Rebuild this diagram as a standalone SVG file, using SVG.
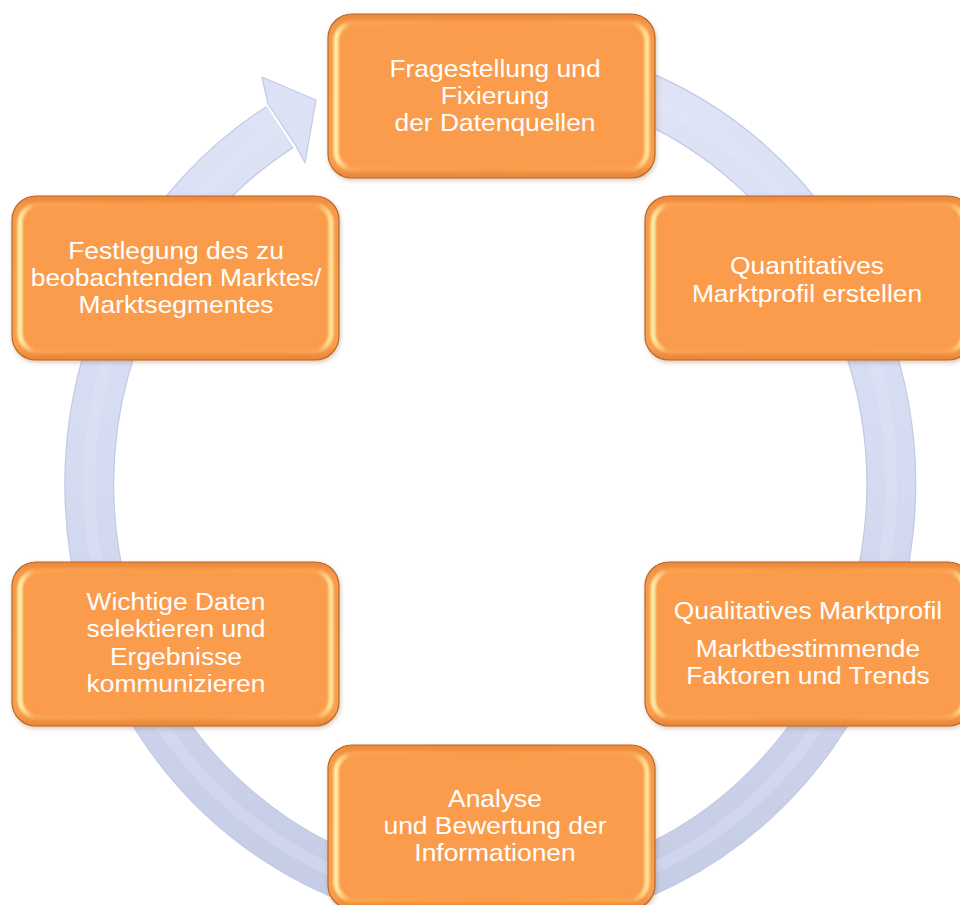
<svg xmlns="http://www.w3.org/2000/svg" xmlns:xlink="http://www.w3.org/1999/xlink" width="960" height="905" viewBox="0 0 960 905">
<style>
.lbl{font-family:"Liberation Sans",Arial,sans-serif;font-size:24px;fill:#FFFFFF;text-anchor:middle}
.ringEdge{fill:none;stroke:#C3CAE4;stroke-width:50}
.ringBody{fill:none;stroke:url(#ringGrad);stroke-width:47.5}
.ringStripe{fill:none;stroke:#E4E8F7;stroke-width:12;opacity:0.3}
</style>
<defs>
<linearGradient id="ringGrad" gradientUnits="userSpaceOnUse" x1="0" y1="40" x2="0" y2="900">
<stop offset="0" stop-color="#DFE4F6"/>
<stop offset="0.5" stop-color="#D5DBF1"/>
<stop offset="1" stop-color="#C5CCE5"/>
</linearGradient>
<linearGradient id="outerGrad" x1="0" y1="0" x2="0" y2="1">
<stop offset="0" stop-color="#EC8838"/>
<stop offset="0.07" stop-color="#F7984A"/>
<stop offset="0.92" stop-color="#F99D4C"/>
<stop offset="1" stop-color="#E88536"/>
</linearGradient>
<linearGradient id="bevelGrad" x1="0" y1="0" x2="1" y2="0">
<stop offset="0" stop-color="#FFF0A8"/>
<stop offset="0.045" stop-color="#FBA352"/>
<stop offset="0.5" stop-color="#FA9C4B"/>
<stop offset="0.955" stop-color="#FBA352"/>
<stop offset="1" stop-color="#FFE597"/>
</linearGradient>
<filter id="shadow" x="-10%" y="-10%" width="120%" height="130%">
<feDropShadow dx="1" dy="2" stdDeviation="2" flood-color="#7A4A20" flood-opacity="0.3"/>
</filter>
<filter id="soft" x="-5%" y="-5%" width="110%" height="110%">
<feGaussianBlur stdDeviation="1.3"/>
</filter>
<g id="box">
<rect x="0" y="0" width="327" height="164" rx="24" ry="24" fill="url(#outerGrad)" stroke="#B8692B" stroke-width="1.2" filter="url(#shadow)"/>
<rect x="8" y="9" width="311" height="146" rx="18" ry="18" fill="#FA9C4B" stroke="url(#bevelGrad)" stroke-width="5" filter="url(#soft)"/>
<rect x="13" y="14" width="301" height="136" rx="14" ry="14" fill="#FA9C4B"/>
</g>
</defs>
<rect width="960" height="905" fill="#FFFFFF"/>
<g id="connectors">
<path class="ringEdge" d="M 354.35 89.33 A 401 420 0 1 1 279.9 126.9"/>
<path class="ringBody" d="M 354.35 89.33 A 401 420 0 1 1 279.9 126.9"/>
<path class="ringStripe" d="M 354.35 89.33 A 401 420 0 1 1 279.9 126.9"/>
<polygon points="268,104 262,77 316,100 305,163 296,146" fill="#DCE1F5" stroke="#C3CAE4" stroke-width="1.2" stroke-linejoin="round"/>
</g>
<g id="node-fragestellung">
<use xlink:href="#box" href="#box" x="328" y="14"/>
<g transform="translate(495,0) scale(1.1,1)">
<text class="lbl" x="0" y="77">Fragestellung und</text>
<text class="lbl" x="0" y="104">Fixierung</text>
<text class="lbl" x="0" y="131">der Datenquellen</text>
</g>
</g>
<g id="node-quantitativ">
<use xlink:href="#box" href="#box" x="645" y="196"/>
<g transform="translate(807,0) scale(1.1,1)">
<text class="lbl" x="0" y="274">Quantitatives</text>
<text class="lbl" x="0" y="302">Marktprofil erstellen</text>
</g>
</g>
<g id="node-qualitativ">
<use xlink:href="#box" href="#box" x="645" y="562"/>
<g transform="translate(808,0) scale(1.1,1)">
<text class="lbl" x="0" y="619">Qualitatives Marktprofil</text>
<text class="lbl" x="0" y="657">Marktbestimmende</text>
<text class="lbl" x="0" y="684">Faktoren und Trends</text>
</g>
</g>
<g id="node-analyse">
<use xlink:href="#box" href="#box" x="328" y="745"/>
<g transform="translate(495,0) scale(1.1,1)">
<text class="lbl" x="0" y="807">Analyse</text>
<text class="lbl" x="0" y="834">und Bewertung der</text>
<text class="lbl" x="0" y="861">Informationen</text>
</g>
</g>
<g id="node-wichtige-daten">
<use xlink:href="#box" href="#box" x="12" y="562"/>
<g transform="translate(176,0) scale(1.1,1)">
<text class="lbl" x="0" y="610">Wichtige Daten</text>
<text class="lbl" x="0" y="637">selektieren und</text>
<text class="lbl" x="0" y="665">Ergebnisse</text>
<text class="lbl" x="0" y="692">kommunizieren</text>
</g>
</g>
<g id="node-festlegung">
<use xlink:href="#box" href="#box" x="12" y="196"/>
<g transform="translate(176,0) scale(1.1,1)">
<text class="lbl" x="0" y="259">Festlegung des zu</text>
<text class="lbl" x="0" y="286">beobachtenden Marktes/</text>
<text class="lbl" x="0" y="313">Marktsegmentes</text>
</g>
</g>
</svg>
